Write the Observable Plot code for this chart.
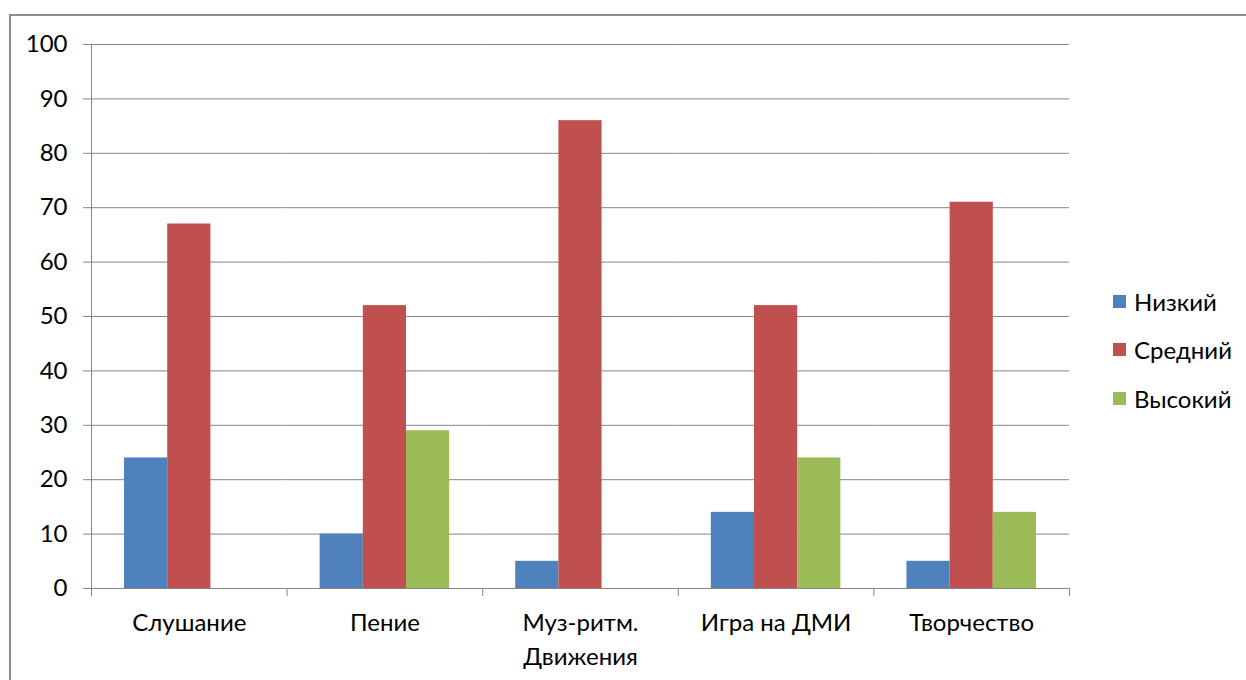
<!DOCTYPE html>
<html><head><meta charset="utf-8">
<script src="https://cdn.jsdelivr.net/npm/d3@7"></script>
<script src="https://cdn.jsdelivr.net/npm/@observablehq/plot@0.6"></script>
<style>
body{margin:0;background:#fff;}
#wrap{position:relative;width:1246px;height:680px;overflow:hidden;font-family:Lato,sans-serif;}
#frame{position:absolute;left:9px;top:14px;width:1300px;height:720px;border:2px solid #8c8c8c;box-sizing:border-box;}
#chart{position:absolute;left:0;top:0;}
#legend{position:absolute;left:1113px;top:277px;font-size:24px;color:#000;}
.item{display:flex;align-items:center;height:48.5px;white-space:nowrap;}
.sw{width:13px;height:13px;margin-right:8px;flex:none;}
</style></head><body>
<div id="wrap"><div id="frame"></div><div id="chart"></div><div id="legend"></div></div>
<script>
const categories = ["Слушание","Пение","Муз-ритм.\nДвижения","Игра на ДМИ","Творчество"];
const series = ["Низкий","Средний","Высокий"];
const low = [24,10,5,14,5];
const mid = [67,52,86,52,71];
const high = [0,29,0,24,14];
const colors = ["#4F81BD","#C0504D","#9BBB59"];
const yTicks = [0,10,20,30,40,50,60,70,80,90,100];

const values = [low, mid, high];
const rows = categories.flatMap((c, i) => series.map((s, j) => ({cat: c, s, v: values[j][i]})));
const gridColor = "#868686";

const plot = Plot.plot({
  width: 1246, height: 680,
  marginLeft: 91, marginRight: 177, marginTop: 44, marginBottom: 92,
  style: {fontFamily: "Lato, sans-serif", fontSize: "24px", color: "#000", background: "transparent"},
  fx: {domain: categories, padding: 0, label: null, round: false},
  x: {domain: series, paddingInner: 0, paddingOuter: 0.765, axis: null, round: false},
  y: {domain: [0, 100], label: null},
  color: {domain: series, range: colors},
  marks: [
    Plot.gridY(yTicks, {stroke: gridColor, strokeOpacity: 1, strokeWidth: 1}),
    Plot.axisY(yTicks, {tickSize: 8, tickPadding: 16, stroke: gridColor, fill: "#000", fontSize: 24, label: null}),
    Plot.axisFx({anchor: "bottom", tickSize: 0, tickPadding: 18, fontSize: 24, lineHeight: 1.42, fill: "#000", label: null}),
    Plot.barY(rows.filter(d => d.v > 0), {fx: "cat", x: "s", y: "v", fill: "s"})
  ]
});
document.getElementById("chart").appendChild(plot);

// category boundary ticks and vertical value axis line, from the library's scales
const fx = plot.scale("fx"), y = plot.scale("y");
const svg = d3.select(plot);
const starts = categories.map(c => fx.apply(c));
const edges = [...starts, starts[starts.length - 1] + fx.step];
const y0 = y.apply(0), y100 = y.apply(100);
svg.append("g").attr("stroke", gridColor).attr("stroke-width", 1)
  .selectAll("line").data(edges).join("line")
  .attr("x1", d => d + 0.5).attr("x2", d => d + 0.5)
  .attr("y1", (d, i) => i === 0 ? y100 : y0).attr("y2", y0 + 8);

const legend = d3.select("#legend");
series.forEach((s, i) => {
  const it = legend.append("div").attr("class", "item");
  it.append("div").attr("class", "sw").style("background", colors[i]);
  it.append("span").text(s);
});
</script>
</body></html>
